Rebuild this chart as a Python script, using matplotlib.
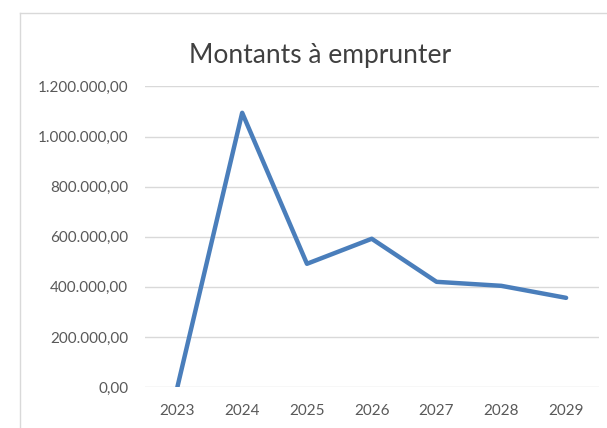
import matplotlib
matplotlib.use("Agg")
import matplotlib.pyplot as plt
from matplotlib.lines import Line2D
from matplotlib.ticker import FuncFormatter

years = ["2023", "2024", "2025", "2026", "2027", "2028", "2029"]
amounts = [0, 1095000, 492000, 592000, 420000, 404000, 356000]
y_ticks = [0, 200000, 400000, 600000, 800000, 1000000, 1200000]

W, H = 607, 428
fig = plt.figure(figsize=(W / 100, H / 100), dpi=100)
fig.patch.set_facecolor("white")

# chart frame (cropped at right and bottom)
border = "#d9d9d9"
fig.add_artist(Line2D([20 / W, 20 / W], [0, 1 - 12.5 / H], transform=fig.transFigure,
                      color=border, lw=1.0))
fig.add_artist(Line2D([20 / W, 1], [1 - 12.5 / H, 1 - 12.5 / H], transform=fig.transFigure,
                      color=border, lw=1.0))

x0, x1 = 145, 598.5
y0, y1 = 387, 86.5
ax = fig.add_axes([x0 / W, (H - y0) / H, (x1 - x0) / W, (y0 - y1) / H])

x = list(range(len(years)))
ax.plot(x, amounts, color="#4a7ebb", lw=3.2, solid_capstyle="round",
        solid_joinstyle="round", zorder=3)

ax.set_xlim(-0.5, len(years) - 0.5)
ax.set_ylim(0, 1200000)
ax.set_yticks(y_ticks)
ax.set_xticks(x)
ax.set_xticklabels(years)


def fr_fmt(v, _):
    s = f"{v:,.2f}"
    return s.replace(",", " ").replace(".", ",").replace(" ", ".")


ax.yaxis.set_major_formatter(FuncFormatter(fr_fmt))
ax.grid(axis="y", color="#d9d9d9", lw=1.0)
ax.set_axisbelow(True)
for s in ax.spines.values():
    s.set_visible(False)
ax.tick_params(axis="both", length=0, labelsize=11, colors="#595959")
ax.tick_params(axis="y", pad=12)
ax.tick_params(axis="x", pad=12)
for lab in ax.get_xticklabels() + ax.get_yticklabels():
    lab.set_family("Lato")

fig.text(320 / W, 1 - 63 / H, "Montants à emprunter", ha="center", va="baseline",
         fontsize=19, color="#404040", family="Lato")

fig.savefig("out.png", dpi=100)
